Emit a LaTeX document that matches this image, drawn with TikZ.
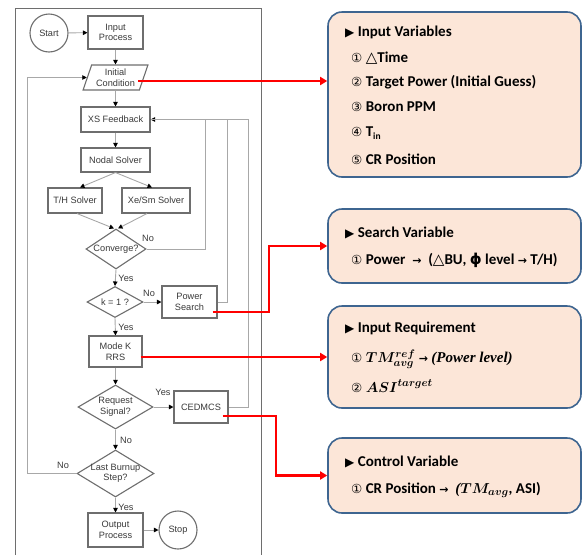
\documentclass[tikz,border=0pt]{standalone}
\usepackage{fontspec}
\usepackage{bm}
\setmainfont{Liberation Sans}
\newfontfamily\cbfont{Carlito}
\newfontfamily\djfont{DejaVu Sans}
\newfontfamily\serfont{Liberation Serif}
\usetikzlibrary{shapes.geometric,arrows.meta}
\definecolor{boxc}{HTML}{6E6E6E}
\definecolor{linec}{HTML}{A8A8A8}
\definecolor{txtc}{HTML}{3A3A3A}
\definecolor{peach}{HTML}{FCE6D8}
\definecolor{rborder}{HTML}{3E6590}
\newcommand\fsz{\fontsize{9.2}{10.5}\selectfont}
\newcommand\trimark{{\djfont\fontsize{12}{12}\selectfont ▶}}
\newcommand\cnum[1]{{\djfont\mdseries\fontsize{12.5}{12.5}\selectfont #1}}
\newcommand\djs[1]{{\djfont #1}}
\tikzset{
  fbox/.style={draw=boxc, line width=1.1pt, fill=white, font=\fsz, text=txtc, align=center, inner sep=1pt},
  fcirc/.style={fbox, circle, minimum size=38},
  fdia/.style={draw=boxc, line width=1.1pt, fill=white, diamond, inner sep=0pt},
  ftxt/.style={font=\fsz, text=txtc, align=center, inner sep=0pt},
  flab/.style={font=\fsz, text=txtc, inner sep=0pt},
  garrow/.style={draw=linec, line width=0.9pt, -{Triangle[length=4.5,width=4.5,color=black]}},
  gline/.style={draw=linec, line width=0.9pt},
  rarrow/.style={draw=red, line width=2.6pt, -{Triangle[length=7,width=8]}},
  rbox/.style={draw=rborder, line width=1.6pt, fill=peach, rounded corners=14, minimum width=253},
  rtitle/.style={anchor=west, font=\cbfont\bfseries\fontsize{15}{17}\selectfont, text=black, inner sep=0pt},
  ritem/.style={rtitle},
}
\begin{document}
\begin{tikzpicture}[x=1pt,y=-1pt]
\useasboundingbox (0,0) rectangle (583,555);
% frame
\draw[draw=boxc, line width=1pt] (15,555) -- (15,8) -- (261,8) -- (261,555);

% flowchart nodes
\node[fcirc] (st) at (49,33) {Start};
\node[fbox, minimum width=55, minimum height=33] (ip) at (115.5,32.5) {Input\\Process};
\node[fbox, trapezium, trapezium left angle=68, trapezium right angle=112, trapezium stretches=true, minimum width=65, minimum height=25, inner sep=0pt] (ic) at (115.5,77.5) {Initial\\Condition};
\node[fbox, minimum width=69, minimum height=25] (xs) at (115.5,119.5) {XS Feedback};
\node[fbox, minimum width=69, minimum height=24] (ns) at (115.5,160) {Nodal Solver};
\node[fbox, minimum width=54, minimum height=25] (th) at (75,200.5) {T/H Solver};
\node[fbox, minimum width=68, minimum height=25] (xe) at (156,200.5) {Xe/Sm Solver};
\node[fdia, minimum width=60, minimum height=40] (cv) at (116,249) {};
\node[ftxt] (cvt) at (cv) {Converge?};
\node[fdia, minimum width=56, minimum height=31] (k1) at (115,302) {};
\node[ftxt] (k1t) at (k1) {k = 1 ?};
\node[fbox, minimum width=55, minimum height=32] (ps) at (189.5,302) {Power\\Search};
\node[fbox, minimum width=53, minimum height=31] (mk) at (115.5,351.5) {Mode K\\RRS};
\node[fdia, minimum width=75, minimum height=44] (rs) at (115.5,407) {};
\node[ftxt] (rst) at (rs) {Request\\Signal?};
\node[fbox, minimum width=54, minimum height=32] (ce) at (201,407) {CEDMCS};
\node[fdia, minimum width=77, minimum height=47] (lb) at (115.5,473.5) {};
\node[ftxt] (lbt) at (lb) {Last Burnup\\Step?};
\node[fbox, minimum width=55, minimum height=34] (op) at (115.5,530) {Output\\Process};
\node[fcirc] (sp) at (178,530) {Stop};

% labels
\node[flab] (l1) at (148,238) {No};
\node[flab] (l2) at (126,278) {Yes};
\node[flab] (l3) at (149,293) {No};
\node[flab] (l4) at (126,327) {Yes};
\node[flab] (l5) at (163,392) {Yes};
\node[flab] (l6) at (126,440) {No};
\node[flab] (l7) at (63,465) {No};
\node[flab] (l8) at (126,507) {Yes};

% connectors
\draw[garrow] (st) -- (ip);
\draw[garrow] (ip) -- (ic);
\draw[garrow] (ic) -- (xs);
\draw[garrow] (xs) -- (ns);
\draw[garrow] (ns.south) -- ([xshift=5]th.north);
\draw[garrow] (ns.south) -- ([xshift=-4]xe.north);
\draw[garrow] ([xshift=2]th.south) -- ([xshift=-2]cv.north);
\draw[garrow] ([xshift=-9]xe.south) -- ([xshift=2]cv.north);
\draw[garrow] (cv.south) -- (k1.north);
\draw[garrow] (k1.east) -- (ps.west);
\draw[garrow] (k1.south) -- (mk.north);
\draw[garrow] (mk.south) -- (rs.north);
\draw[garrow] (rs.east) -- (ce.west);
\draw[garrow] (rs.south) -- (lb.north);
\draw[garrow] (lb.south) -- (op.north);
\draw[garrow] (op.east) -- (sp.west);
\coordinate (lp) at (27,0);
\coordinate (fx1) at (205,0);
\coordinate (fx2) at (227,0);
\coordinate (fx3) at (248,0);
\draw[garrow] (lb.west) -- (lb.west -| lp) |- (ic.west);
\draw[garrow] (cv.east) -- (cv.east -| fx1) |- (xs.east);
\draw[gline] (ps.east) -- (ps.east -| fx2) |- (xs.east);
\draw[gline] (ce.east) -- (ce.east -| fx3) |- (xs.east);

% right boxes
\node[rbox, minimum height=165] (b1) at (454.5,94.5) {};
\node[rbox, minimum height=74] (b2) at (454.5,246) {};
\node[rbox, minimum height=102] (b3) at (454.5,357) {};
\node[rbox, minimum height=75] (b4) at (454.5,475.5) {};

\node[rtitle] (t1) at (345,32) {\trimark\ Input Variables};
\node[ritem] (i11) at (351,58) {\cnum{①} \djs{△}Time};
\node[ritem] (i12) at (351,82) {\cnum{②} Target Power (Initial Guess)};
\node[ritem] (i13) at (351,107) {\cnum{③} Boron PPM};
\node[ritem] (i14) at (351,133) {\cnum{④} T\raisebox{-3pt}{\fontsize{9.5}{9.5}\selectfont in}};
\node[ritem] (i15) at (351,159) {\cnum{⑤} CR Position};

\node[rtitle] (t2) at (345,233) {\trimark\ Search Variable};
\node[ritem] (i21) at (351,260) {\cnum{①} Power \ \djs{\fontsize{11}{11}\selectfont →}\ \ (\djs{△}BU, \djs{ϕ} level \djs{\fontsize{11}{11}\selectfont →} T/H)};

\node[rtitle] (t3) at (345,328) {\trimark\ Input Requirement};
\node[ritem] (i31) at (351,359) {\cnum{①} $\bm{TM^{ref}_{avg}}$\ \djs{\fontsize{11}{11}\selectfont →} {\serfont\bfseries\itshape (Power level)}};
\node[ritem] (i32) at (351,386) {\cnum{②} $\bm{ASI^{target}}$};

\node[rtitle] (t4) at (345,462) {\trimark\ Control Variable};
\node[ritem] (i41) at (351,490) {\cnum{①} CR Position \djs{\fontsize{11}{11}\selectfont →}\ \ {\serfont\bfseries\itshape (}$\bm{TM_{avg}}$, ASI)};

% red connectors
\draw[rarrow] ([xshift=-6pt,yshift=-3.5pt]ic.east) coordinate (r1) -- (r1 -| b1.west);
\coordinate (rx2) at (269,0);
\draw[rarrow] ([xshift=-5pt,yshift=-10pt]ps.east) coordinate (r2) -- (r2 -| rx2) |- (b2.west);
\draw[rarrow] ([xshift=-2pt,yshift=-5.5pt]mk.east) coordinate (r3) -- (r3 -| b3.west);
\coordinate (rx4) at (276,0);
\draw[rarrow] ([xshift=-6pt,yshift=-9pt]ce.east) coordinate (r4) -- (r4 -| rx4) |- (b4.west);
\end{tikzpicture}
\end{document}
